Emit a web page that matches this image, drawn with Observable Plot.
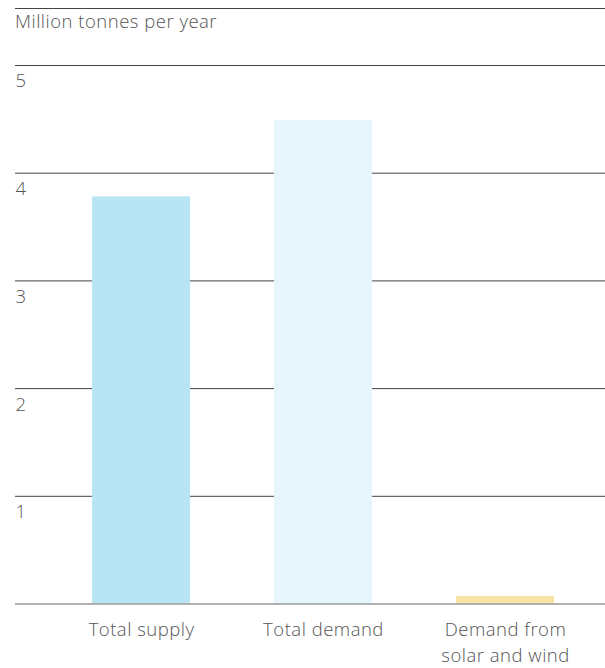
<!DOCTYPE html>
<html>
<head>
<meta charset="utf-8">
<script src="https://cdn.jsdelivr.net/npm/d3@7"></script>
<script src="https://cdn.jsdelivr.net/npm/@observablehq/plot@0.6"></script>
<style>
  body { margin: 0; background: #fff; }
  #wrap { position: relative; width: 605px; height: 668px; font-family: "Open Sans", Roboto, sans-serif; font-weight: 300; }
  #title { position: absolute; left: 15px; top: 8px; width: 590px; border-top: 1px solid #444; padding-top: 0px; font-size: 18.5px; letter-spacing: 0.5px; color: #555; line-height: 24px; }
  #chart { position: absolute; left: 0; top: 0; }
</style>
</head>
<body>
<div id="wrap">
  <div id="chart"></div>
  <div id="title">Million tonnes per year</div>
</div>
<script>
const categories = ["Total supply", "Total demand", "Demand from\nsolar and wind"];
const values = [3.78, 4.49, 0.07];
const colors = ["#b9e4f4", "#e6f6fc", "#f7e5a6"];
const yTicks = [1, 2, 3, 4, 5];

const data = categories.map((c, i) => ({category: c, value: values[i], color: colors[i]}));

const chart = Plot.plot({
  width: 605,
  height: 668,
  marginTop: 65,
  marginBottom: 64.5,
  marginLeft: 15,
  marginRight: 0,
  style: {fontFamily: "'Open Sans', Roboto, sans-serif", fontWeight: 300, fontSize: "18.5px", letterSpacing: "0.5px", color: "#555", background: "transparent"},
  x: {domain: categories, range: [41, 605], paddingInner: 0.464, paddingOuter: 0.273, axis: null},
  y: {domain: [0, 5], axis: null},
  marks: [
    Plot.ruleY(yTicks, {stroke: "#444", strokeWidth: 1}),
    Plot.barY(data, {x: "category", y: "value", fill: "color"}),
    Plot.ruleY([0], {stroke: "#999", strokeWidth: 1.5}),
    Plot.text(yTicks, {y: d => d, text: d => String(d), frameAnchor: "left", textAnchor: "start", lineAnchor: "middle", dy: 16, fill: "#555", fontSize: 18.5}),
    Plot.text(data, {x: "category", y: () => 0, text: "category", textAnchor: "middle", lineAnchor: "top", dy: 14, lineHeight: 1.4, fill: "#555", fontSize: 18.5})
  ]
});
document.getElementById("chart").appendChild(chart);
</script>
</body>
</html>
